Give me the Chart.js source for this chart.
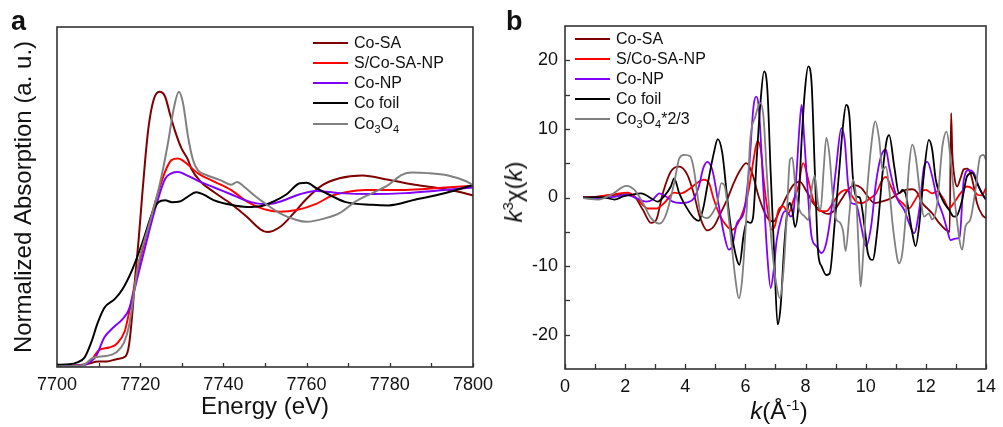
<!DOCTYPE html>
<html>
<head>
<meta charset="utf-8">
<script src="https://cdn.jsdelivr.net/npm/chart.js@4.4.1/dist/chart.umd.min.js"></script>
<style>
  body { margin: 0; background: #fff; }
  #wrap { position: relative; width: 1003px; height: 427px; overflow: hidden; font-family: "Liberation Sans", Arial, sans-serif; color: #111; }
  canvas { position: absolute; top: 0; }
  .lbl { position: absolute; font-weight: bold; font-size: 27px; line-height: 27px; }
  .legend { position: absolute; font-size: 16px; }
  .legend .row { position: absolute; left: 0; height: 20px; display: flex; align-items: center; white-space: nowrap; }
  .legend .ln { width: 35px; height: 2px; margin-right: 6px; }
  .legend sub { font-size: 11px; vertical-align: -4px; line-height: 0; }
  .ttl { position: absolute; font-size: 24px; line-height: 24px; white-space: nowrap; }
  .ttl sup { font-size: 15px; vertical-align: 9px; line-height: 0; }
</style>
</head>
<body>
<div id="wrap">
  <canvas id="xanes" width="500" height="427" style="left:0"></canvas>
  <canvas id="exafs" width="503" height="427" style="left:500px"></canvas>
  <div class="lbl" style="left:11px; top:8px">a</div>
  <div class="lbl" style="left:506px; top:8px">b</div>
  <div class="legend" id="legA" style="left:313px; top:0"></div>
  <div class="legend" id="legB" style="left:575px; top:0"></div>
  <div class="ttl" style="left:779px; top:399px; transform:translateX(-50%)"><i>k</i>(Å<sup>-1</sup>)</div>
  <div class="ttl" style="left:514px; top:192px; transform:translate(-50%,-50%) rotate(-90deg)"><i>k</i><sup>3</sup>χ(<i>k</i>)</div>
</div>
<script>
// --- panel a: Co K-edge XANES (energy in eV, normalized absorption) ---
const xanesCoSA = [[7700,0.005],[7704,0.008],[7707,0.015],[7710,0.03],[7712,0.03],[7714.5,0.045],[7716.5,0.06],[7717.3,0.12],[7718,0.27],[7718.8,0.5],[7719.6,0.70],[7720.4,0.93],[7721.2,1.15],[7722,1.33],[7723.2,1.48],[7724.6,1.527],[7726,1.50],[7727.1,1.408],[7728.3,1.315],[7729.9,1.215],[7731.5,1.15],[7732.3,1.10],[7734.6,1.027],[7737.8,0.97],[7741.8,0.906],[7745.7,0.832],[7748.9,0.764],[7750.5,0.749],[7753.6,0.777],[7756.8,0.851],[7760,0.934],[7763.9,1.011],[7767.9,1.048],[7773.4,1.063],[7779.7,1.039],[7786,1.011],[7791.6,0.993],[7796,0.975],[7800,0.952]];
const xanesSCoSANP = [[7700,0.003],[7704,0.005],[7706,0.01],[7707.8,0.026],[7710.2,0.095],[7712.5,0.108],[7714.3,0.128],[7716.3,0.2],[7717.3,0.30],[7719.6,0.56],[7722,0.78],[7724,0.946],[7726,1.085],[7727.5,1.148],[7729.1,1.157],[7730.7,1.138],[7733.9,1.075],[7737.8,1.029],[7741.8,0.983],[7745.7,0.918],[7749.7,0.876],[7753.6,0.862],[7757.6,0.871],[7762.3,0.905],[7766,0.95],[7769.4,0.97],[7774.2,0.983],[7783.7,0.983],[7791.6,0.993],[7800,1.006]];
const xanesCoNP = [[7700,0.004],[7705,0.008],[7707,0.015],[7709.4,0.061],[7711.4,0.165],[7713.8,0.225],[7715.7,0.264],[7717.3,0.32],[7719.6,0.52],[7722,0.74],[7724,0.91],[7726,1.045],[7727.5,1.075],[7729.1,1.082],[7731.5,1.061],[7733.9,1.033],[7737.8,0.996],[7741.8,0.959],[7745.7,0.922],[7749.7,0.904],[7752,0.908],[7755.2,0.931],[7758.4,0.959],[7762.3,0.977],[7767.9,0.965],[7775.8,0.96],[7783.7,0.965],[7791.6,0.98],[7800,0.996]];
const xanesCoFoil = [[7700,0.012],[7703,0.015],[7704.7,0.024],[7706.6,0.052],[7708.2,0.135],[7709.8,0.246],[7711.4,0.329],[7713.8,0.375],[7715.7,0.43],[7718.1,0.541],[7720.5,0.688],[7722.9,0.854],[7724.4,0.915],[7726,0.925],[7727.6,0.915],[7729.5,0.918],[7731.1,0.94],[7733.5,0.97],[7735.4,0.955],[7737.8,0.925],[7741.8,0.9],[7745.7,0.888],[7748.9,0.892],[7752,0.918],[7755.2,0.959],[7758.4,1.02],[7760,1.022],[7762.3,0.993],[7766.3,0.946],[7769.4,0.915],[7775.8,0.9],[7779.7,0.897],[7786,0.928],[7791.6,0.956],[7795.6,0.98],[7800,1.011]];
const xanesCo3O4 = [[7700,0.003],[7704,0.005],[7706.3,0.01],[7708.6,0.05],[7711.8,0.061],[7714.2,0.08],[7716.1,0.135],[7717.3,0.227],[7719.6,0.578],[7722,0.78],[7724,0.946],[7725.6,1.112],[7726.8,1.26],[7728,1.426],[7729.3,1.527],[7730.3,1.463],[7731.5,1.278],[7732.7,1.149],[7733.9,1.091],[7736.2,1.063],[7739.4,1.036],[7741.8,1.012],[7743.3,1.027],[7744.9,1.002],[7747.3,0.955],[7750.5,0.9],[7753.6,0.853],[7757.6,0.816],[7760,0.806],[7764.7,0.827],[7767.9,0.854],[7771.8,0.919],[7775.8,0.965],[7779.7,1.011],[7782.9,1.066],[7785.3,1.079],[7789.2,1.076],[7794,1.063],[7797.9,1.035],[7800,1.011]];

// --- panel b: k^3-weighted EXAFS oscillations (k in 1/Å) ---
const exafsCoSA = [[0.6,0],[1.0,0.1],[1.65,0.4],[2.09,0.5],[2.31,0.15],[2.59,-1.8],[2.86,-3.7],[3.03,-3.3],[3.25,0.6],[3.52,3.8],[3.8,4.5],[4.07,3.3],[4.3,0.3],[4.46,-2.5],[4.73,-4.8],[4.95,-4.2],[5.17,-2.3],[5.39,-0.3],[5.61,2.1],[5.83,4.0],[6.03,5.0],[6.22,3.6],[6.44,0.15],[6.71,-2.8],[6.93,-3.5],[7.15,-1.8],[7.37,0.15],[7.59,1.8],[7.81,2.3],[8.03,0.9],[8.25,-0.8],[8.47,-1.8],[8.75,-2.4],[8.97,-1.8],[9.19,-0.3],[9.41,1.1],[9.63,1.8],[9.85,1.4],[10.07,0.15],[10.29,-0.8],[10.51,-0.6],[10.8,-0.2],[11.06,0.5],[11.33,1.1],[11.55,1.2],[11.7,0.8],[11.88,-0.8],[12.05,-1.6],[12.21,-2.3],[12.44,-3.7],[12.66,-4.7],[12.79,-5.0],[12.84,12.3],[12.88,6.5],[12.95,3.0],[13.04,1.6],[13.15,2.8],[13.26,4.1],[13.37,4.2],[13.48,3.6],[13.6,1.5],[13.7,-0.8],[13.87,-2.5],[14,-3.0]];
const exafsSCoSANP = [[0.6,0],[1.0,0.1],[1.65,0.5],[2.09,0.7],[2.42,-0.3],[2.75,-1.6],[3.03,-1.6],[3.3,-0.8],[3.63,0.7],[3.85,0.6],[4.18,1.4],[4.45,2.3],[4.62,2.6],[4.79,2.1],[4.95,-0.3],[5.17,-2.8],[5.39,-4.2],[5.56,-4.7],[5.72,-4.0],[5.94,-1.8],[6.11,1.1],[6.27,5.5],[6.4,8.2],[6.51,7.0],[6.62,2.1],[6.77,-2.8],[6.88,-4.7],[6.99,-4.0],[7.1,-1.8],[7.26,-1.3],[7.43,-2.3],[7.59,-0.5],[7.76,1.6],[7.92,5.0],[8.09,2.6],[8.25,-0.3],[8.47,-2.0],[8.69,-2.0],[8.91,-0.8],[9.13,0.6],[9.35,1.1],[9.52,0.4],[9.68,-0.6],[9.9,-0.8],[10.12,-0.2],[10.34,0.6],[10.56,2.6],[10.67,3.0],[10.84,1.6],[11.0,0.15],[11.22,-0.8],[11.44,-1.6],[11.61,-0.6],[11.78,0.6],[12.0,1.1],[12.21,0.6],[12.38,0.9],[12.6,-0.3],[12.77,-1.6],[12.93,-0.8],[13.15,0.6],[13.37,1.6],[13.55,1.3],[13.72,0.4],[13.86,0.3],[14,1.4]];
const exafsCoNP = [[0.6,0],[1.16,-0.1],[1.65,0.1],[2.04,0.4],[2.37,-0.1],[2.7,-0.6],[2.92,-0.3],[3.14,0.6],[3.36,0.15],[3.58,-0.6],[3.85,-0.8],[4.07,-0.7],[4.29,-0.1],[4.45,1.6],[4.6,4.3],[4.73,5.2],[4.9,4.0],[5.12,-1.3],[5.28,-5.2],[5.45,-7.6],[5.56,-7.1],[5.72,-3.7],[5.94,-2.3],[6.11,3.6],[6.27,13.3],[6.36,14.7],[6.44,13.3],[6.6,1.1],[6.73,-8.6],[6.84,-13.2],[6.93,-11.0],[7.04,-6.2],[7.21,-2.8],[7.32,-2.0],[7.43,-2.3],[7.5,-2.8],[7.59,-2.3],[7.7,3.6],[7.8,10.5],[7.87,13.5],[7.95,9.0],[8.03,3.6],[8.2,-5.7],[8.36,-7.1],[8.53,-8.1],[8.69,-6.6],[8.86,-1.8],[9.02,4.5],[9.19,10.1],[9.3,8.4],[9.41,2.1],[9.52,-0.8],[9.68,-1.0],[9.85,-4.2],[10.01,-7.1],[10.18,-4.2],[10.34,2.1],[10.51,6.0],[10.67,7.0],[10.78,4.5],[10.95,1.2],[11.06,-0.3],[11.28,-1.8],[11.44,-3.7],[11.61,-5.2],[11.78,-1.8],[11.94,4.5],[12.05,5.2],[12.21,3.1],[12.38,-0.3],[12.55,-2.3],[12.71,-4.7],[12.82,-6.2],[12.98,-6.0],[13.12,-5.8],[13.26,2.5],[13.43,4.0],[13.59,3.6],[13.76,1.6],[13.92,0.15],[14,-0.3]];
const exafsCoFoil = [[0.6,0],[1.0,0.05],[1.32,0],[1.65,-0.3],[1.93,0.15],[2.2,0.4],[2.53,0.6],[2.86,-0.1],[3.08,-0.6],[3.3,0.2],[3.52,1.6],[3.63,2.8],[3.8,0.6],[4.02,-1.3],[4.29,-3.0],[4.45,-3.4],[4.6,-1.5],[4.73,1.6],[4.95,6.5],[5.08,8.5],[5.23,6.5],[5.39,0.15],[5.56,-5.7],[5.72,-9.1],[5.8,-9.8],[5.94,-5.5],[6.05,-3.5],[6.16,-3.7],[6.25,-3.0],[6.38,6.0],[6.49,13.3],[6.62,18.4],[6.73,15.7],[6.84,3.6],[6.96,-8.6],[7.07,-18.5],[7.17,-15.9],[7.29,-7.1],[7.4,-1.8],[7.48,-0.8],[7.56,-2.0],[7.65,-4.3],[7.76,-1.3],[7.87,8.4],[7.98,15.7],[8.09,19.1],[8.2,16.7],[8.31,3.6],[8.42,-8.1],[8.53,-10.0],[8.69,-11.3],[8.8,-11.1],[8.97,-3.7],[9.13,4.5],[9.24,10.3],[9.35,13.5],[9.46,11.8],[9.57,3.1],[9.68,0.2],[9.8,0.0],[9.96,-4.2],[10.07,-8.1],[10.23,-9.1],[10.4,-4.2],[10.56,3.6],[10.7,8.4],[10.78,9.1],[10.95,4.5],[11.11,0.6],[11.22,1.1],[11.33,0.5],[11.44,-2.3],[11.55,-5.2],[11.66,-7.1],[11.78,-4.0],[11.94,3.6],[12.1,8.4],[12.21,7.0],[12.33,2.6],[12.55,-0.3],[12.77,-1.8],[12.93,-2.8],[13.04,-2.6],[13.21,-0.3],[13.37,3.1],[13.54,3.6],[13.7,2.1],[13.87,0.6],[14,-0.3]];
const exafsCo3O4 = [[0.6,-0.1],[1.1,-0.3],[1.54,0.4],[2.04,1.7],[2.31,1.1],[2.59,-0.8],[2.86,-3.0],[3.14,-3.8],[3.36,-2.5],[3.63,2.1],[3.8,5.7],[3.96,6.2],[4.16,6.0],[4.29,4.0],[4.4,0.5],[4.51,-2.3],[4.73,-3.0],[4.9,-2.3],[5.06,-0.8],[5.2,2.1],[5.3,1.8],[5.5,-5.2],[5.67,-12.0],[5.78,-14.7],[5.89,-12.0],[6.05,-1.3],[6.16,8.4],[6.33,11.8],[6.49,13.8],[6.6,11.8],[6.71,3.6],[6.88,-7.1],[7.04,-13.0],[7.15,-14.7],[7.26,-11.0],[7.37,-3.2],[7.48,5.5],[7.56,5.8],[7.65,2.1],[7.76,-1.3],[7.98,-2.8],[8.09,-3.3],[8.2,1.1],[8.3,3.2],[8.42,-1.0],[8.5,-1.8],[8.6,4.0],[8.69,8.7],[8.8,6.0],[8.9,0.5],[9.02,-3.2],[9.13,-3.6],[9.25,-5.0],[9.33,-7.8],[9.46,-2.3],[9.57,2.6],[9.68,0.0],[9.76,-7.0],[9.83,-13.0],[9.92,-8.0],[10.01,-1.3],[10.18,7.4],[10.32,11.1],[10.45,8.4],[10.56,4.0],[10.67,4.5],[10.8,0.5],[10.89,-3.7],[11.06,-9.1],[11.11,-9.6],[11.22,-8.0],[11.33,-2.8],[11.44,4.5],[11.55,7.7],[11.66,6.0],[11.83,-0.3],[11.94,-2.8],[12.1,-2.3],[12.21,-3.2],[12.38,-0.8],[12.55,7.4],[12.69,9.6],[12.82,5.7],[12.98,-1.3],[13.21,-7.6],[13.32,-4.2],[13.48,-3.2],[13.65,1.1],[13.81,6.0],[13.92,6.2],[14,5.5]];

// tick values
const xanesTicksX = [7700, 7720, 7740, 7760, 7780, 7800];
const xanesMinorX = [7710, 7730, 7750, 7770, 7790];
const exafsTicksX = [0, 2, 4, 6, 8, 10, 12, 14];
const exafsMinorX = [1, 3, 5, 7, 9, 11, 13];
const exafsTicksY = [-20, -10, 0, 10, 20];
const exafsMinorY = [-15, -5, 5, 15];

const seriesNames = ['Co-SA', 'S/Co-SA-NP', 'Co-NP', 'Co foil', 'Co<sub>3</sub>O<sub>4</sub>'];
const seriesNamesB = ['Co-SA', 'S/Co-SA-NP', 'Co-NP', 'Co foil', 'Co<sub>3</sub>O<sub>4</sub>*2/3'];
const seriesColors = ['#7f0000', '#ff0000', '#7f00ff', '#000000', '#808080'];

Chart.defaults.font.family = '"Liberation Sans", Arial, sans-serif';
Chart.defaults.color = '#111';

// frame + inward tick marks, drawn from the chart's own scales
const frameTicks = {
  id: 'frameTicks',
  afterDraw(chart, args, opts) {
    const { ctx, chartArea: a, scales } = chart;
    ctx.save();
    ctx.strokeStyle = '#333';
    ctx.lineWidth = 1.3;
    (opts.x || []).forEach(v => {
      const px = Math.round(scales.x.getPixelForValue(v)) + 0.5;
      ctx.beginPath(); ctx.moveTo(px, a.bottom); ctx.lineTo(px, a.bottom - opts.len); ctx.stroke();
    });
    (opts.y || []).forEach(v => {
      const py = Math.round(scales.y.getPixelForValue(v)) + 0.5;
      ctx.beginPath(); ctx.moveTo(a.left, py); ctx.lineTo(a.left + opts.len, py); ctx.stroke();
    });
    ctx.lineWidth = 1.6;
    ctx.strokeRect(a.left, a.top, a.right - a.left, a.bottom - a.top);
    ctx.restore();
  }
};

function toXY(arr) { return arr.map(p => ({ x: p[0], y: p[1] })); }

function makeSets(list, width) {
  return list.map((arr, i) => ({
    data: toXY(arr),
    borderColor: seriesColors[i],
    borderWidth: width,
    pointRadius: 0,
    fill: false,
    cubicInterpolationMode: 'monotone',
    order: list.length - 1 - i
  }));
}

const tickFont = { size: 18 };

new Chart(document.getElementById('xanes'), {
  type: 'line',
  data: { datasets: makeSets([xanesCoSA, xanesSCoSANP, xanesCoNP, xanesCoFoil, xanesCo3O4], 2) },
  options: {
    responsive: false,
    animation: false,
    events: [],
    layout: { padding: { left: 0, right: 21, top: 27, bottom: 0 } },
    plugins: {
      legend: { display: false },
      tooltip: { enabled: false },
      frameTicks: { x: xanesTicksX.concat(xanesMinorX), len: 4 }
    },
    scales: {
      x: {
        type: 'linear', min: 7700, max: 7800,
        grid: { display: false, drawTicks: false },
        border: { display: false },
        afterBuildTicks: s => { s.ticks = xanesTicksX.map(v => ({ value: v })); },
        ticks: { font: tickFont, padding: 7, maxRotation: 0, autoSkip: false, callback: v => String(v) },
        title: { display: true, text: 'Energy (eV)', font: { size: 24 }, padding: { top: 0, bottom: 5 } },
        afterFit: s => { s.height = 60; }
      },
      y: {
        type: 'linear', min: 0, max: 1.887,
        grid: { display: false, drawTicks: false },
        border: { display: false },
        ticks: { display: false },
        title: { display: true, text: 'Normalized Absorption (a. u.)', font: { size: 24 }, padding: { top: 10, bottom: 0 } },
        afterFit: s => { s.width = 57; }
      }
    }
  },
  plugins: [frameTicks]
});

new Chart(document.getElementById('exafs'), {
  type: 'line',
  data: { datasets: makeSets([exafsCoSA, exafsSCoSANP, exafsCoNP, exafsCoFoil, exafsCo3O4], 1.8) },
  options: {
    responsive: false,
    animation: false,
    events: [],
    layout: { padding: { left: 0, right: 14, top: 26, bottom: 0 } },
    plugins: {
      legend: { display: false },
      tooltip: { enabled: false },
      frameTicks: { x: exafsTicksX.concat(exafsMinorX), y: exafsTicksY.concat(exafsMinorY), len: 5 }
    },
    scales: {
      x: {
        type: 'linear', min: 0, max: 14,
        grid: { display: false, drawTicks: false },
        border: { display: false },
        afterBuildTicks: s => { s.ticks = exafsTicksX.map(v => ({ value: v })); },
        ticks: { font: tickFont, padding: 7, maxRotation: 0, autoSkip: false },
        afterFit: s => { s.height = 58; }
      },
      y: {
        type: 'linear', min: -25, max: 25,
        grid: { display: false, drawTicks: false },
        border: { display: false },
        afterBuildTicks: s => { s.ticks = exafsTicksY.map(v => ({ value: v })); },
        ticks: { font: tickFont, padding: 7 },
        afterFit: s => { s.width = 65; }
      }
    }
  },
  plugins: [frameTicks]
});

// legends (html, so the subscripts stay real text)
function buildLegend(id, names, centers) {
  const box = document.getElementById(id);
  names.forEach((n, i) => {
    const row = document.createElement('div');
    row.className = 'row';
    row.style.top = (centers[i] - 10) + 'px';
    row.innerHTML = '<span class="ln" style="background:' + seriesColors[i] + '"></span><span>' + n + '</span>';
    box.appendChild(row);
  });
}
buildLegend('legA', seriesNames, [42.5, 62.5, 82.5, 102.5, 123.5]);
buildLegend('legB', seriesNamesB, [39, 58.7, 78.7, 98.7, 119]);
</script>
</body>
</html>
